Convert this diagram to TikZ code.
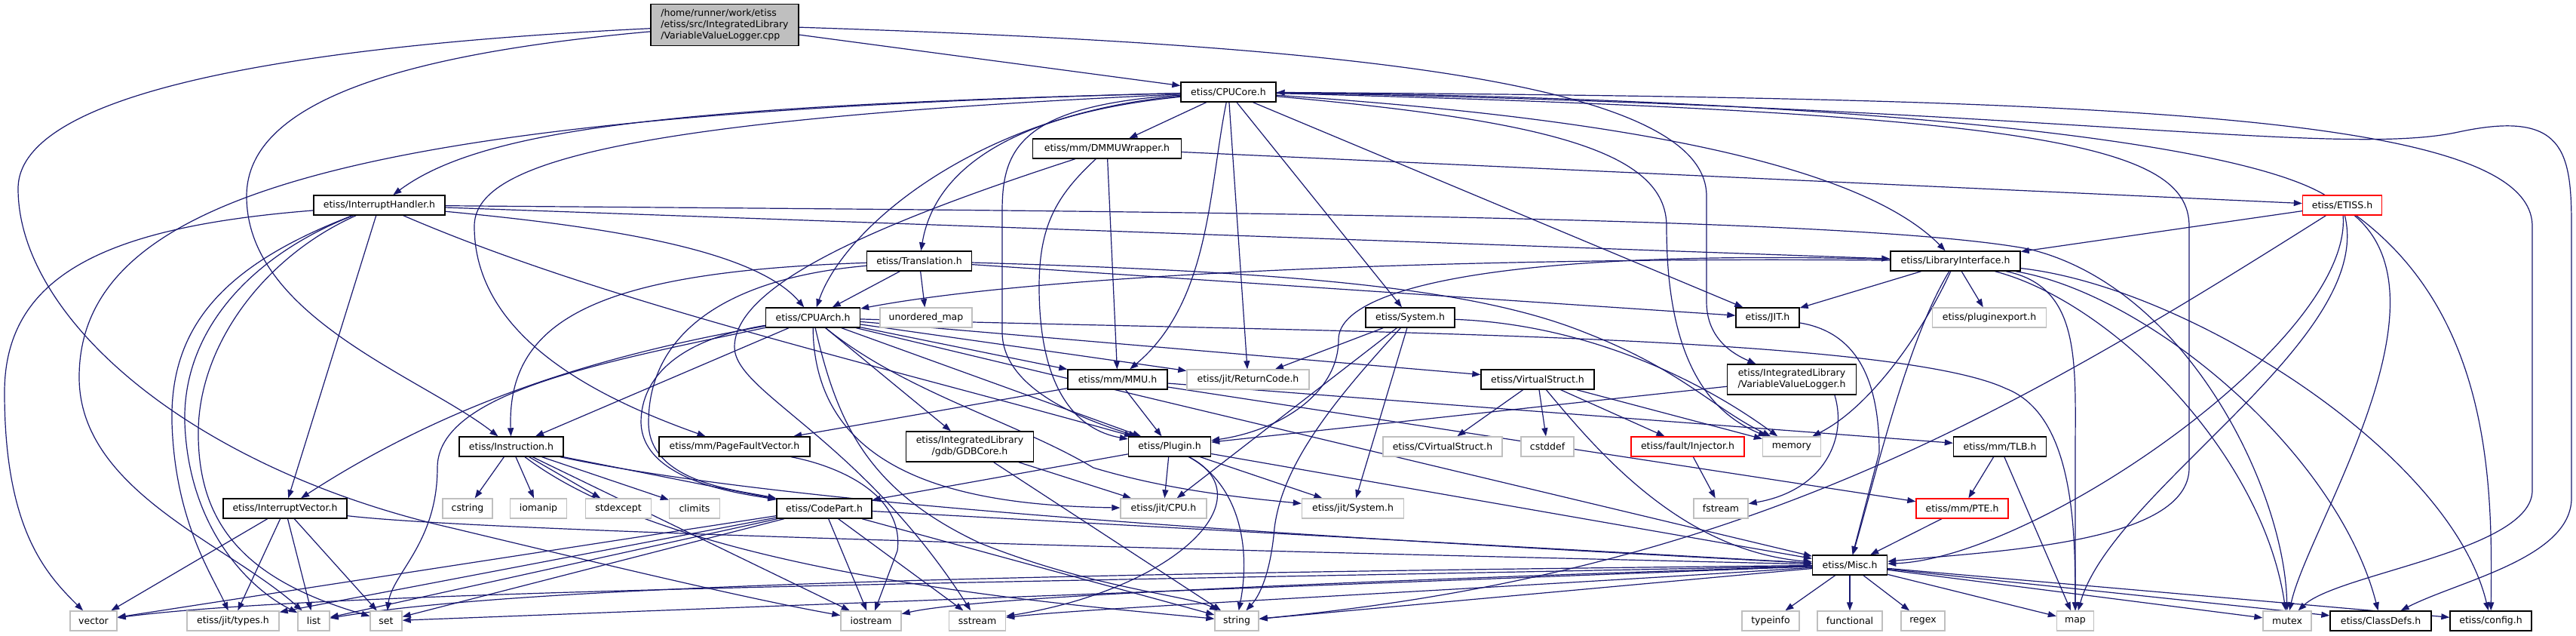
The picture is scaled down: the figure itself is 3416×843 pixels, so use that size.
\documentclass[tikz,border=0pt]{standalone}
\usepackage{fontspec}
\setmainfont{DejaVu Sans}
\usepackage{tikz}
\usetikzlibrary{arrows.meta}
\definecolor{edgeblue}{HTML}{191970}
\definecolor{sysgray}{HTML}{BFBFBF}
\pgfdeclarelayer{edges}
\pgfsetlayers{edges,main}

\begin{document}
\begin{tikzpicture}[x=1pt,y=-1pt,font=\fontsize{12.5}{15}\selectfont,
    filebox/.style={draw=black,line width=1.4pt,fill=white,minimum height=26pt,inner sep=3pt},
    sysbox/.style={filebox,draw=sysgray},
    cutbox/.style={filebox,draw=red},
    dep/.style={draw=edgeblue,line width=1.2pt,-{Triangle[length=11pt,width=8pt]}}]
\useasboundingbox (0,0) rectangle (3416,843);

% headers of the project
\node[filebox,fill=sysgray,minimum width=196pt,minimum height=55pt,align=left] (vvlcpp) at (961,33) {/home/runner/work/etiss\\/etiss/src/IntegratedLibrary\\/VariableValueLogger.cpp};
\node[filebox,minimum width=126pt] (cpucore) at (1629,122) {etiss/CPUCore.h};
\node[filebox,minimum width=197pt] (dmmu) at (1468,197) {etiss/mm/DMMUWrapper.h};
\node[filebox,minimum width=174pt] (inthandler) at (503,272) {etiss/InterruptHandler.h};
\node[cutbox,minimum width=105pt] (etiss) at (3106,272) {etiss/ETISS.h};
\node[filebox,minimum width=139pt] (translation) at (1219,346) {etiss/Translation.h};
\node[filebox,minimum width=172pt] (libiface) at (2593,346) {etiss/LibraryInterface.h};
\node[filebox,minimum width=125pt] (cpuarch) at (1078,421) {etiss/CPUArch.h};
\node[sysbox,minimum width=122pt] (umap) at (1228,421) {unordered\_map};
\node[filebox,minimum width=118pt] (system) at (1870,421) {etiss/System.h};
\node[filebox,minimum width=84pt] (jit) at (2344,421) {etiss/JIT.h};
\node[sysbox,minimum width=151pt] (pluginexport) at (2638,421) {etiss/pluginexport.h};
\node[filebox,minimum width=132pt] (mmu) at (1482,503) {etiss/mm/MMU.h};
\node[sysbox,minimum width=162pt] (returncode) at (1655,503) {etiss/jit/ReturnCode.h};
\node[filebox,minimum width=150pt] (virtstruct) at (2039,503) {etiss/VirtualStruct.h};
\node[filebox,minimum width=171pt,minimum height=40pt,align=center] (vvlh) at (2376,503) {etiss/IntegratedLibrary\\/VariableValueLogger.h};
\node[filebox,minimum width=138pt] (instruction) at (678,592) {etiss/Instruction.h};
\node[filebox,minimum width=200pt] (pagefault) at (974,592) {etiss/mm/PageFaultVector.h};
\node[filebox,minimum width=169pt,minimum height=40pt,align=center] (gdbcore) at (1286,592) {etiss/IntegratedLibrary\\/gdb/GDBCore.h};
\node[filebox,minimum width=109pt] (plugin) at (1551,592) {etiss/Plugin.h};
\node[sysbox,minimum width=158pt] (cvirtstruct) at (1913,592) {etiss/CVirtualStruct.h};
\node[sysbox,minimum width=70pt] (cstddef) at (2052,592) {cstddef};
\node[cutbox,minimum width=150pt] (injector) at (2238,592) {etiss/fault/Injector.h};
\node[sysbox,minimum width=77pt] (memory) at (2376,592) {memory};
\node[filebox,minimum width=123pt] (tlb) at (2652,592) {etiss/mm/TLB.h};
\node[filebox,minimum width=164pt] (intvector) at (378,674) {etiss/InterruptVector.h};
\node[sysbox,minimum width=66pt] (cstring) at (620,674) {cstring};
\node[sysbox,minimum width=75pt] (iomanip) at (714,674) {iomanip};
\node[sysbox,minimum width=87pt] (stdexcept) at (820,674) {stdexcept};
\node[sysbox,minimum width=67pt] (climits) at (921,674) {climits};
\node[filebox,minimum width=126pt] (codepart) at (1093,674) {etiss/CodePart.h};
\node[sysbox,minimum width=114pt] (jitcpu) at (1543,674) {etiss/jit/CPU.h};
\node[sysbox,minimum width=135pt] (jitsystem) at (1794,674) {etiss/jit/System.h};
\node[sysbox,minimum width=72pt] (fstream) at (2282,674) {fstream};
\node[cutbox,minimum width=122pt] (pte) at (2602,674) {etiss/mm/PTE.h};
\node[filebox,minimum width=99pt] (misc) at (2453,749) {etiss/Misc.h};
% bottom row
\node[sysbox,minimum width=62pt] (vector) at (124,823) {vector};
\node[sysbox,minimum width=122pt] (types) at (309,823) {etiss/jit/types.h};
\node[sysbox,minimum width=42pt] (list) at (416,823) {list};
\node[sysbox,minimum width=42pt] (set) at (512,823) {set};
\node[sysbox,minimum width=80pt] (iostream) at (1155,823) {iostream};
\node[sysbox,minimum width=75pt] (sstream) at (1296,823) {sstream};
\node[sysbox,minimum width=58pt] (string) at (1640,823) {string};
\node[sysbox,minimum width=76pt] (typeinfo) at (2348,823) {typeinfo};
\node[sysbox,minimum width=86pt] (functional) at (2453,823) {functional};
\node[sysbox,minimum width=58pt] (regex) at (2550,823) {regex};
\node[sysbox,minimum width=49pt] (map) at (2752,823) {map};
\node[sysbox,minimum width=64pt] (mutex) at (3033,823) {mutex};
\node[filebox,minimum width=134pt] (classdefs) at (3157,823) {etiss/ClassDefs.h};
\node[filebox,minimum width=108pt] (config) at (3303,823) {etiss/config.h};

\begin{pgfonlayer}{edges}
\fill[white] (0,0) rectangle (3416,843);
% direct includes
\foreach \src/\dst in {vvlcpp/cpucore, cpucore/dmmu, cpucore/returncode, cpucore/system, cpucore/jit,
    dmmu/mmu, dmmu/etiss, inthandler/intvector, inthandler/libiface, etiss/libiface,
    translation/cpuarch, translation/umap, translation/jit, libiface/jit, libiface/pluginexport,
    cpuarch/instruction, cpuarch/mmu, cpuarch/returncode, cpuarch/virtstruct, cpuarch/plugin,
    cpuarch/gdbcore, cpuarch/misc, system/returncode, system/jitcpu, system/jitsystem,
    mmu/pagefault, mmu/plugin, mmu/tlb, mmu/pte,
    virtstruct/cvirtstruct, virtstruct/cstddef, virtstruct/injector, virtstruct/memory, vvlh/plugin,
    instruction/cstring, instruction/iomanip, instruction/stdexcept, instruction/climits,
    instruction/codepart, instruction/iostream, gdbcore/jitcpu, gdbcore/string,
    plugin/codepart, plugin/jitcpu, plugin/jitsystem, plugin/misc,
    injector/fstream, tlb/pte, tlb/map, pte/misc,
    intvector/vector, intvector/types, intvector/list, intvector/set,
    codepart/vector, codepart/types, codepart/list, codepart/set, codepart/iostream,
    codepart/sstream, codepart/string, codepart/misc,
    misc/set, misc/string, misc/typeinfo, misc/functional, misc/regex, misc/map,
    misc/mutex, misc/classdefs, misc/config}
  \draw[dep] (\src) -- (\dst);

% routed includes
\draw[dep] (vvlcpp) .. controls (400,60) and (24,120) .. (24,250) .. controls (24,420) and (250,620) .. (600,700) .. controls (850,760) and (1000,795) .. (iostream);
\draw[dep] (vvlcpp) .. controls (550,70) and (327,130) .. (327,260) .. controls (327,420) and (560,500) .. (instruction);
\draw[dep] (vvlcpp) .. controls (1800,60) and (2263,110) .. (2263,260) -- (2263,400) .. controls (2263,450) and (2300,470) .. (vvlh);

\draw[dep] (inthandler) .. controls (150,300) and (6,360) .. (6,520) .. controls (6,700) and (60,760) .. (vector);
\draw[dep] (inthandler) .. controls (300,350) and (225,430) .. (228,560) .. controls (232,690) and (280,760) .. (types);
\draw[dep] (inthandler) .. controls (330,340) and (242,440) .. (245,560) .. controls (250,700) and (330,780) .. (list);
\draw[dep] (inthandler) .. controls (350,340) and (260,460) .. (263,580) .. controls (265,700) and (330,770) .. (set);
\draw[dep] (inthandler) .. controls (800,300) and (1000,330) .. (cpuarch);
\draw[dep] (inthandler) .. controls (800,400) and (1150,480) .. (plugin);
\draw[dep] (inthandler) .. controls (1500,280) and (2450,285) .. (2690,330) .. controls (2900,380) and (3030,650) .. (mutex);

\draw[dep] (cpucore) .. controls (900,140) and (640,170) .. (inthandler);
\draw[dep] (cpucore) .. controls (1350,150) and (1240,220) .. (translation);
\draw[dep] (cpucore) .. controls (1300,150) and (1120,300) .. (cpuarch);
\draw[dep] (cpucore) .. controls (500,150) and (105,250) .. (105,500) .. controls (105,650) and (300,720) .. (list);
\draw[dep] (cpucore) .. controls (800,160) and (629,220) .. (629,300) .. controls (629,450) and (800,530) .. (pagefault);
\draw[dep] (cpucore) .. controls (1350,140) and (1329,200) .. (1329,280) -- (1329,440) .. controls (1329,520) and (1450,560) .. (plugin);
\draw[dep] (cpucore) .. controls (1603,250) and (1605,400) .. (mmu);
\draw[dep] (cpucore) .. controls (2050,150) and (2450,200) .. (libiface);
\draw[dep] (cpucore) .. controls (2700,150) and (2903,190) .. (2903,300) -- (2903,620) .. controls (2903,720) and (2650,730) .. (misc);
\draw[dep] (cpucore) .. controls (2800,130) and (3358,150) .. (3358,300) -- (3358,650) .. controls (3358,730) and (3100,760) .. (mutex);
\draw[dep] (cpucore) .. controls (2700,140) and (3100,210) .. (3260,175) .. controls (3400,145) and (3410,200) .. (3410,300) -- (3410,660) .. controls (3410,740) and (3260,770) .. (classdefs);
\draw[dep] (cpucore) .. controls (2050,160) and (2210,200) .. (2210,300) .. controls (2210,450) and (2250,540) .. (memory);

\draw[dep] (dmmu) .. controls (1400,260) and (1378,300) .. (1378,380) .. controls (1378,520) and (1430,570) .. (plugin);
\draw[dep] (dmmu) .. controls (1150,300) and (974,380) .. (974,460) .. controls (974,520) and (1140,580) .. (sstream);

\draw[dep] (translation) .. controls (800,360) and (672,420) .. (instruction);
\draw[dep] (translation) .. controls (950,370) and (860,450) .. (860,560) .. controls (860,640) and (980,650) .. (codepart);
\draw[dep] (translation) .. controls (1700,360) and (1950,380) .. (2100,440) .. controls (2230,490) and (2270,540) .. (memory);

\draw[dep] (cpuarch) .. controls (800,470) and (600,530) .. (intvector);
\draw[dep] (cpuarch) .. controls (800,480) and (580,520) .. (580,620) .. controls (580,720) and (520,760) .. (set);
\draw[dep] (cpuarch) .. controls (900,450) and (850,500) .. (850,560) .. controls (852,640) and (990,655) .. (codepart);
\draw[dep] (cpuarch) .. controls (1080,640) and (1300,670) .. (jitcpu);
\draw[dep] (cpuarch) .. controls (1200,520) and (1350,560) .. (1450,620) .. controls (1550,650) and (1650,660) .. (jitsystem);
\draw[dep] (cpuarch) .. controls (1110,560) and (1150,650) .. (1300,720) .. controls (1450,780) and (1580,790) .. (string);
\draw[dep] (cpuarch) .. controls (1700,440) and (2500,440) .. (2660,515) .. controls (2750,550) and (2752,700) .. (map);

\draw[dep] (instruction) .. controls (1000,660) and (1500,700) .. (misc);
\draw[dep] (instruction) .. controls (900,760) and (1400,800) .. (string);
\draw[dep] (pagefault) .. controls (1100,615) and (1200,650) .. (1190,730) -- (iostream);
\draw[dep] (intvector) .. controls (600,700) and (1200,720) .. (misc);
\draw[dep] (plugin) .. controls (1680,660) and (1560,780) .. (sstream);
\draw[dep] (plugin) .. controls (1640,640) and (1660,720) .. (string);
\draw[dep] (system) .. controls (2100,430) and (2250,500) .. (memory);
\draw[dep] (system) .. controls (1760,540) and (1700,620) .. (1690,700) .. controls (1685,760) and (1670,790) .. (string);
\draw[dep] (virtstruct) .. controls (2120,600) and (2230,730) .. (misc);
\draw[dep] (vvlh.-20) .. controls (2450,580) and (2420,650) .. (fstream);
\draw[dep] (jit) .. controls (2460,440) and (2492,500) .. (2492,600) -- (misc);

\draw[dep] (libiface) .. controls (2000,340) and (1400,360) .. (cpuarch);
\draw[dep] (libiface) .. controls (2000,330) and (1775,380) .. (1775,450) .. controls (1775,520) and (1700,570) .. (plugin);
\draw[dep] (libiface) .. controls (2550,440) and (2480,540) .. (memory);
\draw[dep] (libiface) .. controls (2530,450) and (2490,620) .. (misc);
\draw[dep] (libiface) .. controls (2760,380) and (2752,480) .. (2752,600) -- (map);
\draw[dep] (libiface) .. controls (2800,400) and (3000,600) .. (mutex);
\draw[dep] (libiface) .. controls (2850,390) and (3100,600) .. (classdefs);
\draw[dep] (libiface) .. controls (2900,380) and (3250,600) .. (config);

\draw[dep] (etiss) .. controls (2950,180) and (2400,130) .. (cpucore);
\draw[dep] (etiss) .. controls (3120,450) and (2700,740) .. (misc);
\draw[dep] (etiss) .. controls (3150,450) and (2800,650) .. (map);
\draw[dep] (etiss) .. controls (3258,400) and (3060,700) .. (mutex);
\draw[dep] (etiss) .. controls (3306,420) and (3305,650) .. (config);
\draw[dep] (etiss) .. controls (2650,560) and (2300,760) .. (string);

\draw[dep] (misc) .. controls (1500,770) and (450,780) .. (vector);
\draw[dep] (misc) .. controls (1400,760) and (700,775) .. (list);
\draw[dep] (misc) .. controls (1800,770) and (1300,790) .. (iostream);
\draw[dep] (misc) .. controls (1900,785) and (1450,805) .. (sstream);
\end{pgfonlayer}
\end{tikzpicture}
\end{document}
